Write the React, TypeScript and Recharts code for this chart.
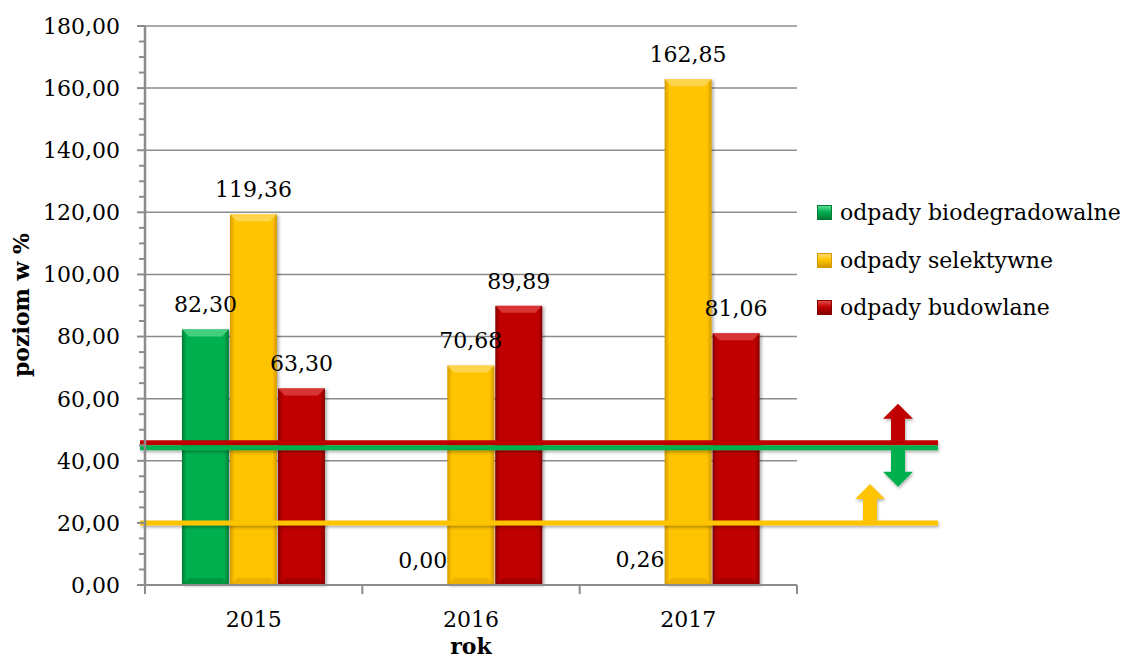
import React from 'react';
import { BarChart, Bar, XAxis, YAxis, CartesianGrid, ReferenceLine, LabelList } from 'recharts';

const years = ['2015', '2016', '2017'];
const biodegradowalne = [82.3, 0.0, 0.26];
const selektywne = [119.36, 70.68, 162.85];
const budowlane = [63.3, 89.89, 81.06];

const seriesKeys = ['bio', 'sel', 'bud'];
const seriesNames = ['odpady biodegradowalne', 'odpady selektywne', 'odpady budowlane'];

const yTicks = [0, 20, 40, 60, 80, 100, 120, 140, 160, 180];

// wymagane poziomy
const levelBudowlane = 45;
const levelBio = 45;
const levelSelektywne = 20;

const palette: Record<string, { main: string; dark: string; light: string }> = {
  bio: { main: '#00B050', dark: '#007A36', light: '#5FDD94' },
  sel: { main: '#FFC400', dark: '#D49A00', light: '#FFDB6E' },
  bud: { main: '#C00000', dark: '#860000', light: '#E24A4A' },
};

const data = years.map((year, i) => ({
  year,
  bio: biodegradowalne[i],
  sel: selektywne[i],
  bud: budowlane[i],
}));

const W = 1135;
const H = 659;
const MARGIN = { top: 26, right: 338, bottom: 0, left: 0 };
const Y_AXIS_W = 145;
const X_AXIS_H = 74;
const PLOT_BOTTOM = H - MARGIN.bottom - X_AXIS_H;
const AXIS_X = MARGIN.left + Y_AXIS_W;
const PLOT_W = W - MARGIN.left - MARGIN.right - Y_AXIS_W;

const FONT = '"DejaVu Serif", serif';
const GRAY = '#8c8c8c';

const fmt = (v: number) => v.toFixed(2).replace('.', ',');

// minor ticks every 5
const allTicks = yTicks.flatMap((t, i) => (i === 0 ? [t] : [t - 15, t - 10, t - 5, t]));

const YTick = (props: any) => {
  const { y, payload } = props;
  const v = payload.value as number;
  const major = yTicks.includes(v);
  return (
    <g>
      <line x1={AXIS_X - (major ? 8 : 6)} x2={AXIS_X} y1={y} y2={y} stroke={GRAY} strokeWidth={2} />
      {major && (
        <text x={AXIS_X - 25} y={y} dy="0.36em" textAnchor="end" fontFamily={FONT} fontSize={22} fill="#000">
          {fmt(v)}
        </text>
      )}
    </g>
  );
};

const XTick = (props: any) => {
  const { x, payload, index } = props;
  const band = PLOT_W / years.length;
  return (
    <g>
      <line x1={x - band / 2} x2={x - band / 2} y1={PLOT_BOTTOM} y2={PLOT_BOTTOM + 9} stroke={GRAY} strokeWidth={2} />
      {index === years.length - 1 && (
        <line x1={x + band / 2} x2={x + band / 2} y1={PLOT_BOTTOM} y2={PLOT_BOTTOM + 9} stroke={GRAY} strokeWidth={2} />
      )}
      <text x={x} y={PLOT_BOTTOM + 42} textAnchor="middle" fontFamily={FONT} fontSize={22} fill="#000">
        {payload.value}
      </text>
    </g>
  );
};

const bevelBar = (key: string) => (props: any) => {
  const { x, y, width, height } = props;
  if (!height || height <= 0) return <g />;
  const c = palette[key];
  const b = Math.min(7, height / 2, width / 2);
  return (
    <g>
      <rect x={x} y={y} width={width} height={height} fill={`url(#grad-${key})`} filter="url(#barShadow)" />
      <polygon
        points={`${x},${y} ${x + width},${y} ${x + width - b},${y + b} ${x + b},${y + b}`}
        fill={c.light}
        opacity={0.7}
      />
      <polygon
        points={`${x},${y + height} ${x + width},${y + height} ${x + width - b},${y + height - b} ${x + b},${y + height - b}`}
        fill={c.dark}
        opacity={0.45}
      />
    </g>
  );
};

const arrowPoints = (cx: number, yBase: number, dir: number) => {
  const len = 37;
  const head = 15;
  const yn = yBase + dir * (len - head);
  const yt = yBase + dir * len;
  return `${cx - 7},${yBase} ${cx - 7},${yn} ${cx - 15},${yn} ${cx},${yt} ${cx + 15},${yn} ${cx + 7},${yn} ${cx + 7},${yBase}`;
};

const levelLine = (color: string, dy: number, arrowDir: number, arrowDx: number) => (props: any) => {
  const { x1, x2, y1 } = props;
  const y = y1 + dy;
  return (
    <g filter="url(#lineShadow)">
      <line x1={x1 - 5} x2={x2 + 141} y1={y} y2={y} stroke={color} strokeWidth={5} />
      <polygon points={arrowPoints(x2 + arrowDx, y + (arrowDir > 0 ? 2 : -2), arrowDir)} fill={color} />
    </g>
  );
};

const LegendBox = () => (
  <div style={{ position: 'absolute', left: 817, top: 189, fontFamily: FONT, fontSize: 22, color: '#000' }}>
    {seriesKeys.map((k, i) => {
      const c = palette[k];
      return (
        <div key={k} style={{ display: 'flex', alignItems: 'center', height: 47.5, whiteSpace: 'nowrap' }}>
          <span
            style={{
              display: 'inline-block',
              width: 13,
              height: 13,
              marginRight: 8,
              background: `linear-gradient(180deg, ${c.light} 0%, ${c.main} 45%, ${c.dark} 100%)`,
              border: `1px solid ${c.dark}`,
            }}
          />
          <span>{seriesNames[i]}</span>
        </div>
      );
    })}
  </div>
);

export default function App() {
  return (
    <div style={{ position: 'absolute', left: 0, top: 0, width: W, height: H, background: '#fff' }}>
      <BarChart width={W} height={H} data={data} margin={MARGIN} barCategoryGap="17%" barGap={1}>
        <defs>
          {seriesKeys.map((k) => (
            <linearGradient key={k} id={`grad-${k}`} x1="0" y1="0" x2="1" y2="0">
              <stop offset="0%" stopColor={palette[k].dark} />
              <stop offset="10%" stopColor={palette[k].main} />
              <stop offset="90%" stopColor={palette[k].main} />
              <stop offset="100%" stopColor={palette[k].dark} />
            </linearGradient>
          ))}
          <filter id="barShadow" x="-20%" y="-5%" width="140%" height="115%">
            <feDropShadow dx="2" dy="1" stdDeviation="1.5" floodColor="#000" floodOpacity="0.3" />
          </filter>
          <filter id="lineShadow" x="-5%" y="-50%" width="110%" height="200%">
            <feDropShadow dx="1" dy="2" stdDeviation="1.5" floodColor="#000" floodOpacity="0.3" />
          </filter>
        </defs>
        <CartesianGrid vertical={false} horizontalValues={yTicks.slice(1)} stroke={GRAY} strokeWidth={1.5} />
        <XAxis
          dataKey="year"
          height={X_AXIS_H}
          tickLine={false}
          axisLine={{ stroke: GRAY, strokeWidth: 2 }}
          tick={<XTick />}
          interval={0}
          label={{ value: 'rok', position: 'insideBottom', offset: 5, fontFamily: FONT, fontSize: 22, fontWeight: 'bold', fill: '#000' }}
        />
        <YAxis
          width={Y_AXIS_W}
          domain={[0, 180]}
          ticks={allTicks}
          interval={0}
          tickLine={false}
          axisLine={{ stroke: GRAY, strokeWidth: 2.5 }}
          tick={<YTick />}
          label={{
            content: () => (
              <text
                transform="translate(29,305) rotate(-90)"
                textAnchor="middle"
                fontFamily={FONT}
                fontSize={22}
                fontWeight="bold"
                fill="#000"
              >
                poziom w %
              </text>
            ),
          }}
        />
        {seriesKeys.map((k, i) => (
          <Bar key={k} dataKey={k} name={seriesNames[i]} fill={palette[k].main} shape={bevelBar(k)} isAnimationActive={false}>
            <LabelList
              dataKey={k}
              position="top"
              offset={17}
              formatter={(v: any) => fmt(Number(v))}
              fontFamily={FONT}
              fontSize={22}
              fill="#000"
            />
          </Bar>
        ))}
        <ReferenceLine y={levelSelektywne} shape={levelLine(palette.sel.main, 0, -1, 73)} />
        <ReferenceLine y={levelBudowlane} shape={levelLine(palette.bud.main, -2.5, -1, 101)} />
        <ReferenceLine y={levelBio} shape={levelLine(palette.bio.main, 2.5, 1, 101)} />
      </BarChart>
      <LegendBox />
    </div>
  );
}
